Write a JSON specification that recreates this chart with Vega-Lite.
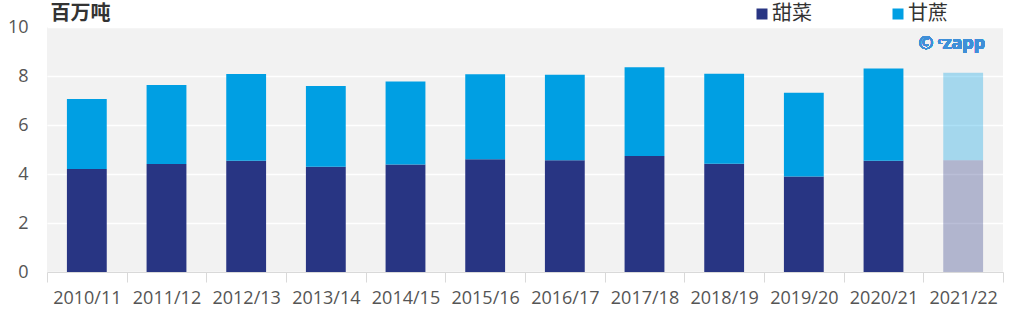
{
  "$schema": "https://vega.github.io/schema/vega-lite/v6.json",
  "width": 956,
  "height": 245,
  "autosize": {"type": "none"},
  "padding": {"left": 47, "top": 27, "right": 12, "bottom": 45},
  "background": "#ffffff",
  "config": {
    "font": "Open Sans, Noto Sans CJK SC",
    "view": {"fill": "#f2f2f2", "stroke": null}
  },
  "data": {
    "values": [
      {"season": "2010/11", "type": "甜菜", "value": 4.20, "status": "actual"},
      {"season": "2010/11", "type": "甘蔗", "value": 2.86, "status": "actual"},
      {"season": "2011/12", "type": "甜菜", "value": 4.41, "status": "actual"},
      {"season": "2011/12", "type": "甘蔗", "value": 3.22, "status": "actual"},
      {"season": "2012/13", "type": "甜菜", "value": 4.54, "status": "actual"},
      {"season": "2012/13", "type": "甘蔗", "value": 3.54, "status": "actual"},
      {"season": "2013/14", "type": "甜菜", "value": 4.30, "status": "actual"},
      {"season": "2013/14", "type": "甘蔗", "value": 3.29, "status": "actual"},
      {"season": "2014/15", "type": "甜菜", "value": 4.39, "status": "actual"},
      {"season": "2014/15", "type": "甘蔗", "value": 3.39, "status": "actual"},
      {"season": "2015/16", "type": "甜菜", "value": 4.60, "status": "actual"},
      {"season": "2015/16", "type": "甘蔗", "value": 3.47, "status": "actual"},
      {"season": "2016/17", "type": "甜菜", "value": 4.56, "status": "actual"},
      {"season": "2016/17", "type": "甘蔗", "value": 3.49, "status": "actual"},
      {"season": "2017/18", "type": "甜菜", "value": 4.73, "status": "actual"},
      {"season": "2017/18", "type": "甘蔗", "value": 3.63, "status": "actual"},
      {"season": "2018/19", "type": "甜菜", "value": 4.42, "status": "actual"},
      {"season": "2018/19", "type": "甘蔗", "value": 3.67, "status": "actual"},
      {"season": "2019/20", "type": "甜菜", "value": 3.90, "status": "actual"},
      {"season": "2019/20", "type": "甘蔗", "value": 3.42, "status": "actual"},
      {"season": "2020/21", "type": "甜菜", "value": 4.54, "status": "actual"},
      {"season": "2020/21", "type": "甘蔗", "value": 3.77, "status": "actual"},
      {"season": "2021/22", "type": "甜菜", "value": 4.56, "status": "estimate"},
      {"season": "2021/22", "type": "甘蔗", "value": 3.57, "status": "estimate"}
    ]
  },
  "layer": [
    {
      "mark": {"type": "bar", "width": {"band": 0.5}},
      "encoding": {
        "x": {
          "field": "season",
          "type": "ordinal",
          "scale": {"paddingInner": 0, "paddingOuter": 0},
          "axis": {
            "title": null,
            "labelAngle": 0,
            "labelFontSize": 18,
            "labelColor": "#555555",
            "labelPadding": 7,
            "tickBand": "extent",
            "tickSize": 10,
            "tickColor": "#d9d9d9",
            "domainColor": "#d9d9d9",
            "grid": false
          }
        },
        "y": {
          "field": "value",
          "type": "quantitative",
          "aggregate": "sum",
          "stack": "zero",
          "scale": {"domain": [0, 10], "nice": false},
          "axis": {
            "title": "百万吨",
            "titleAngle": 0,
            "titleX": 3,
            "titleY": -14,
            "titleAlign": "left",
            "titleBaseline": "middle",
            "titleFont": "Noto Sans CJK SC",
            "titleFontSize": 20,
            "titleFontWeight": "bold",
            "titleColor": "#333333",
            "values": [0, 2, 4, 6, 8, 10],
            "labelFontSize": 18,
            "labelColor": "#555555",
            "labelPadding": 19,
            "ticks": false,
            "domain": false,
            "gridColor": "#ffffff",
            "gridWidth": 1.5
          }
        },
        "color": {
          "field": "type",
          "type": "nominal",
          "scale": {"domain": ["甜菜", "甘蔗"], "range": ["#283583", "#009fe3"]},
          "legend": {
            "title": null,
            "orient": "none",
            "legendX": 705,
            "legendY": -23,
            "padding": 0,
            "direction": "horizontal",
            "symbolType": "square",
            "symbolSize": 121,
            "symbolStrokeWidth": 0,
            "labelFontSize": 20,
            "labelColor": "#333333",
            "labelFont": "Noto Sans CJK SC",
            "labelOffset": 0,
            "columnPadding": 76
          }
        },
        "opacity": {
          "field": "status",
          "type": "nominal",
          "scale": {"domain": ["actual", "estimate"], "range": [1, 0.32]},
          "legend": null
        },
        "order": {"field": "type", "sort": "descending"}
      }
    },
    {
      "mark": {
        "type": "text",
        "text": "© ᶜzapp",
        "align": "right",
        "baseline": "middle",
        "fontSize": 18,
        "fontWeight": "bold",
        "color": "#3f8fd8",
        "dx": 22
      },
      "encoding": {
        "x": {"datum": "2021/22", "type": "ordinal"},
        "y": {"datum": 9.3, "type": "quantitative"}
      }
    }
  ]
}
